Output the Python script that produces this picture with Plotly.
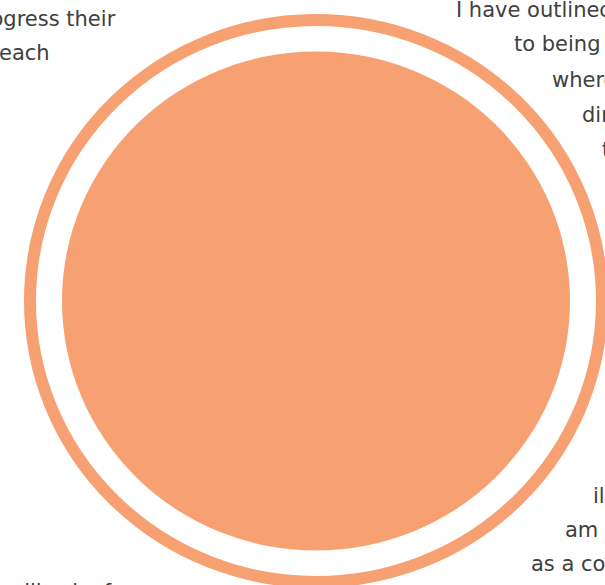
import plotly.graph_objects as go

# ---- data ----
circle_center = (316, 301)          # centre of both discs
outer_ring_radii = (286, 281)       # ring centre-line radii (x, y)
inner_disc_radii = (254, 249.5)     # filled disc radii (x, y)

right_lines = ["I have outlined", "to being", "where", "dir", "t"]
left_lines = ["progress their", "each"]
bottom_right_lines = ["ill", "am", "as a co"]
bottom_left_lines = ["will ask of"]

# ---- layout positions for text (pixels) ----
W, H = 605, 585
right_x = [454, 512, 550, 580, 600]
right_y = [9.5, 44.5, 80, 115, 150]
left_xend = [118, 52]
left_y = [19, 53]
br_x = [591, 563, 529]
br_y = [495.5, 529.5, 564]
bl_x = [5]
bl_top = [578]

ORANGE = "#F7A173"
TEXT = "#404040"
FONT = dict(family="DejaVu Sans", size=21, color=TEXT)

fig = go.Figure()
cx, cy = circle_center
fig.add_shape(type="circle", xref="x", yref="y",
              x0=cx - outer_ring_radii[0], x1=cx + outer_ring_radii[0],
              y0=cy - outer_ring_radii[1], y1=cy + outer_ring_radii[1],
              line=dict(color=ORANGE, width=12), fillcolor="rgba(0,0,0,0)")
fig.add_shape(type="circle", xref="x", yref="y",
              x0=cx - inner_disc_radii[0], x1=cx + inner_disc_radii[0],
              y0=cy - inner_disc_radii[1], y1=cy + inner_disc_radii[1],
              line=dict(width=0), fillcolor=ORANGE)

def ann(text, x, y, xanchor, yanchor="middle"):
    fig.add_annotation(text=text, xref="paper", yref="paper",
                       x=x / W, y=1 - y / H, xanchor=xanchor, yanchor=yanchor,
                       showarrow=False, font=FONT)

for t, x, y in zip(right_lines, right_x, right_y):
    ann(t, x, y, "left")
for t, x, y in zip(left_lines, left_xend, left_y):
    ann(t, x, y, "right")
for t, x, y in zip(bottom_right_lines, br_x, br_y):
    ann(t, x, y, "left")
for t, x, y in zip(bottom_left_lines, bl_x, bl_top):
    ann(t, x, y, "left", "top")

fig.update_layout(
    width=W, height=H,
    margin=dict(l=0, r=0, t=0, b=0),
    paper_bgcolor="white", plot_bgcolor="white",
    showlegend=False,
    xaxis=dict(range=[0, W], visible=False, fixedrange=True),
    yaxis=dict(range=[H, 0], visible=False, fixedrange=True),
)

fig.write_html(
    "out.html",
    config={"displayModeBar": False},
    post_script="document.body.style.margin='0';document.documentElement.style.overflow='hidden';",
)
